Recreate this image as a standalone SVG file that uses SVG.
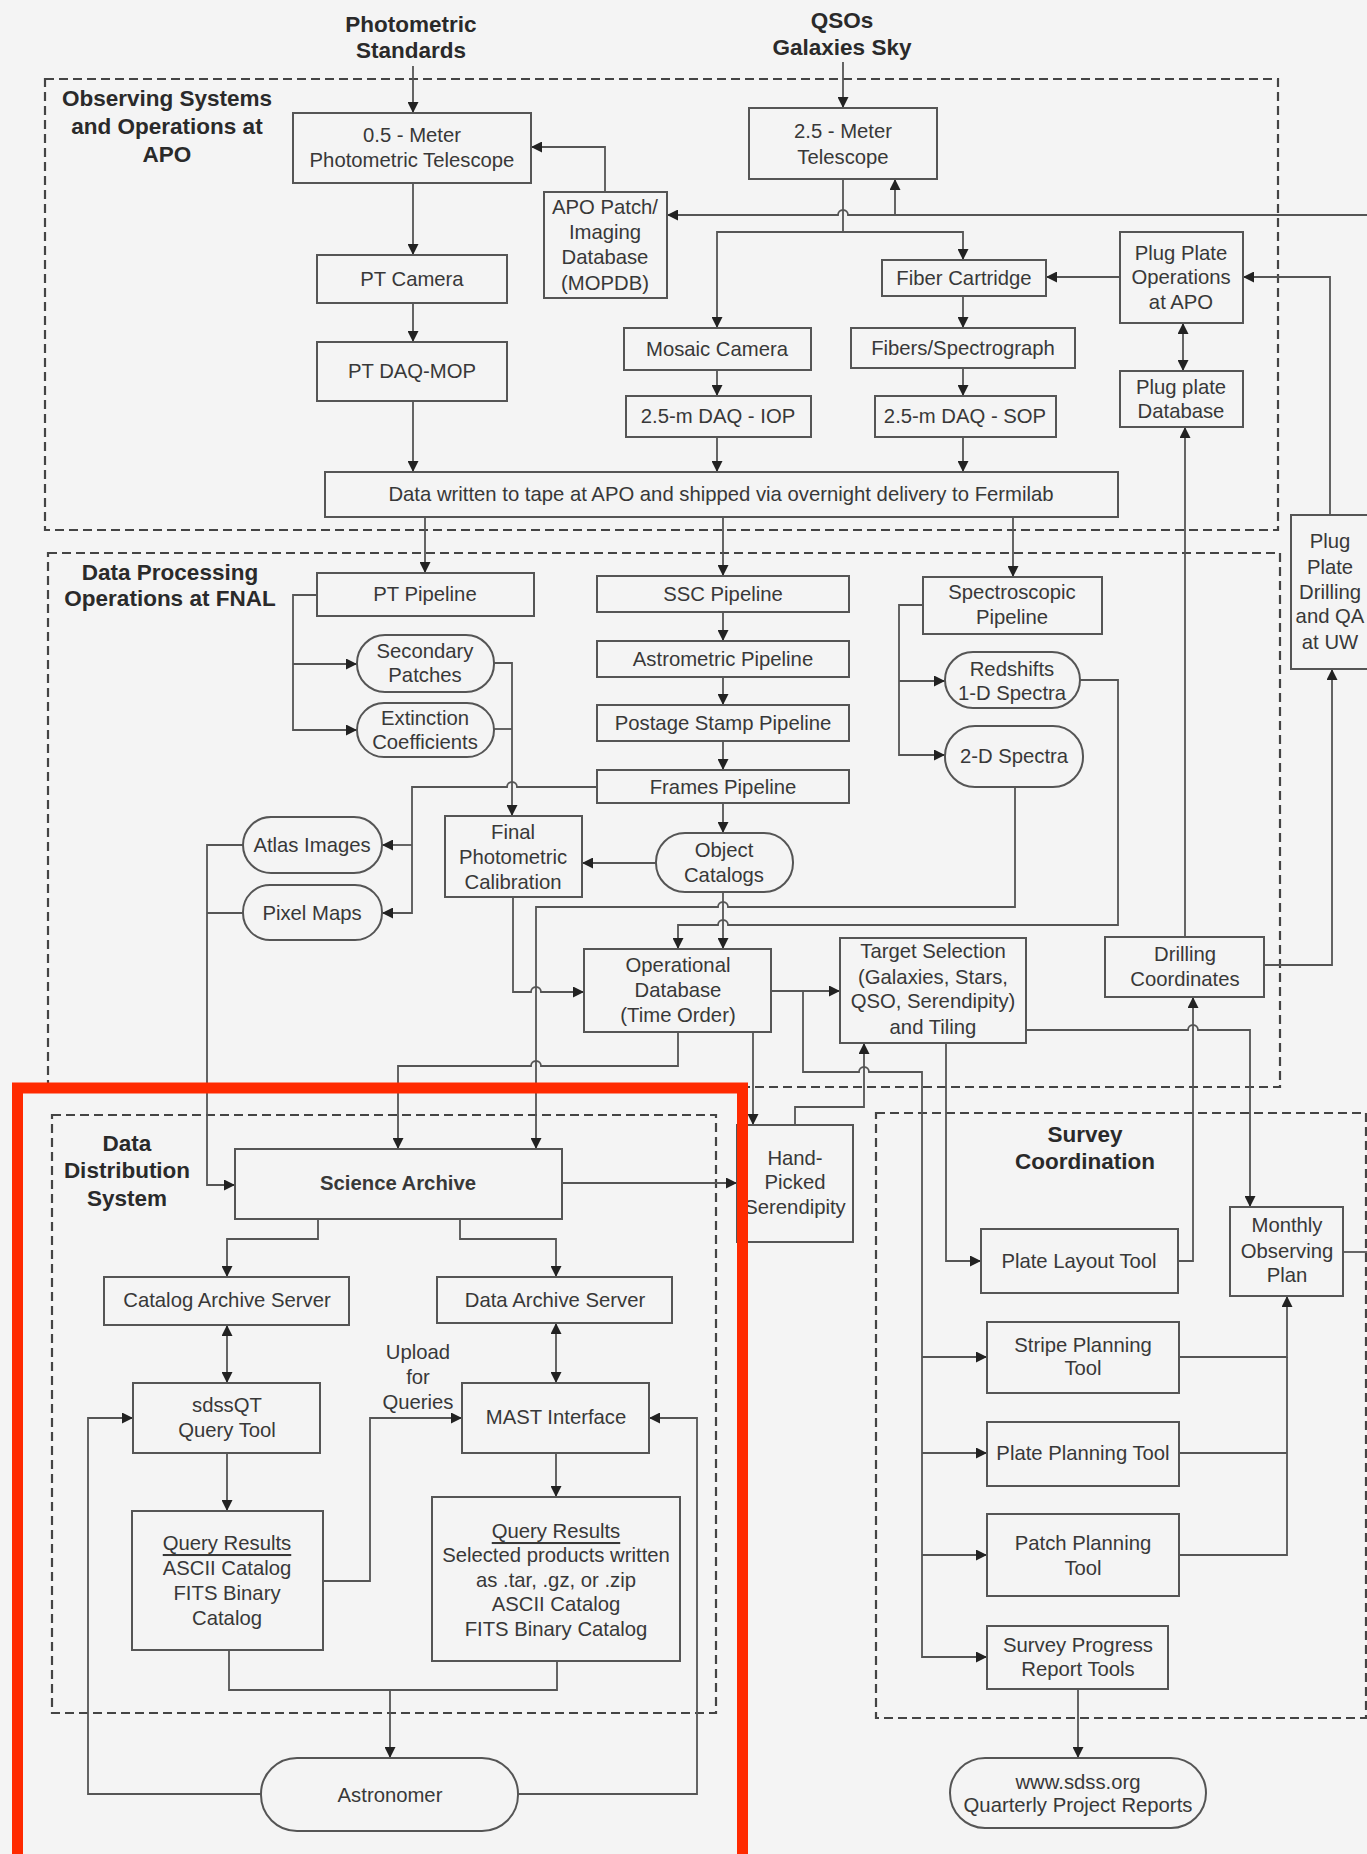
<svg xmlns="http://www.w3.org/2000/svg" width="1367" height="1854" viewBox="0 0 1367 1854">
<defs>
<marker id="arr" viewBox="0 0 10 10" refX="10" refY="5" markerWidth="11" markerHeight="11" markerUnits="userSpaceOnUse" orient="auto"><path d="M0,0 L10,5 L0,10 z" fill="#222"/></marker>
<marker id="arrs" viewBox="0 0 10 10" refX="10" refY="5" markerWidth="11" markerHeight="11" markerUnits="userSpaceOnUse" orient="auto-start-reverse"><path d="M0,0 L10,5 L0,10 z" fill="#222"/></marker>
<style>
.bx{fill:none;stroke:#555;stroke-width:2}
.st{fill:none;stroke:#555;stroke-width:2}
.dash{fill:none;stroke:#444;stroke-width:2.2;stroke-dasharray:9 5}
.t{font-family:"Liberation Sans",Arial,sans-serif;font-size:20.3px;fill:#383838;text-anchor:middle;dominant-baseline:central}
.tb{font-family:"Liberation Sans",Arial,sans-serif;font-size:22.5px;font-weight:bold;fill:#2a2a2a;text-anchor:middle;dominant-baseline:central}
.c path{fill:none;stroke:#555;stroke-width:1.8}
.a{marker-end:url(#arr)}
.aa{marker-end:url(#arrs);marker-start:url(#arrs)}
</style>
</defs>
<rect x="0" y="0" width="1367" height="1854" fill="#f4f4f4"/>

<g id="regions">
<rect class="dash" x="45" y="79" width="1233" height="451"/>
<rect class="dash" x="48" y="553" width="1232" height="534"/>
<rect class="dash" x="52" y="1115" width="664" height="598"/>
<rect class="dash" x="876" y="1113" width="490" height="605"/>
</g>

<g id="titles">
<text class="tb" x="411" y="24">Photometric</text>
<text class="tb" x="411" y="50">Standards</text>
<text class="tb" x="842" y="20">QSOs</text>
<text class="tb" x="842" y="47">Galaxies Sky</text>
<text class="tb" x="167" y="98">Observing Systems</text>
<text class="tb" x="167" y="126">and Operations at</text>
<text class="tb" x="167" y="154">APO</text>
<text class="tb" x="170" y="572">Data Processing</text>
<text class="tb" x="170" y="598">Operations at FNAL</text>
<text class="tb" x="127" y="1143">Data</text>
<text class="tb" x="127" y="1170">Distribution</text>
<text class="tb" x="127" y="1198">System</text>
<text class="tb" x="1085" y="1134">Survey</text>
<text class="tb" x="1085" y="1161">Coordination</text>
<text class="t" x="418" y="1352">Upload</text>
<text class="t" x="418" y="1377">for</text>
<text class="t" x="418" y="1402">Queries</text>
</g>

<g id="connectors" class="c">
<path class="a" d="M413,66 V113"/>
<path class="a" d="M843,62 V108"/>
<path class="a" d="M413,183 V255"/>
<path class="a" d="M413,303 V342"/>
<path class="a" d="M413,401 V472"/>
<path class="a" d="M605,192 V147 H531"/>
<path class="a" d="M1367,215 H848 A5,5 0 0 0 838,215 H667"/>
<path class="a" d="M895,215 V179"/>
<path d="M843,179 V232"/>
<path class="a" d="M843,232 H717 V328"/>
<path class="a" d="M843,232 H963 V260"/>
<path class="a" d="M717,370 V396"/>
<path class="a" d="M717,437 V472"/>
<path class="a" d="M963,296 V328"/>
<path class="a" d="M963,368 V396"/>
<path class="a" d="M963,437 V472"/>
<path class="a" d="M1120,277 H1046"/>
<path class="a" d="M1330,515 V277 H1243"/>
<path class="aa" d="M1183,323 V371"/>
<path class="a" d="M1185,937 V427"/>
<path class="a" d="M425,517 V573"/>
<path class="a" d="M723,517 V576"/>
<path class="a" d="M1013,517 V577"/>
<path class="a" d="M317,595 H293 V730 H357"/>
<path class="a" d="M293,664 H357"/>
<path class="a" d="M494,663 H512 V816"/>
<path d="M494,729 H512"/>
<path class="a" d="M723,612 V641"/>
<path class="a" d="M723,677 V705"/>
<path class="a" d="M723,741 V770"/>
<path class="a" d="M723,803 V833"/>
<path class="a" d="M656,863 H582"/>
<path class="a" d="M597,787 H517 A5,5 0 0 0 507,787 H412 V913 H382"/>
<path class="a" d="M412,845 H382"/>
<path class="a" d="M243,845 H207 V1185 H235"/>
<path d="M243,913 H207"/>
<path class="a" d="M513,897 V992 H531 A5,5 0 0 1 541,992 H584"/>
<path class="a" d="M1015,787 V907 H728 A5,5 0 0 0 718,907 H536 V1149"/>
<path class="a" d="M1080,680 H1118 V925 H728 A5,5 0 0 0 718,925 H678 V949"/>
<path class="a" d="M723,892 V949"/>
<path class="a" d="M923,605 H899 V755 H945"/>
<path class="a" d="M899,681 H945"/>
<path class="a" d="M771,991 H840"/>
<path class="a" d="M803,991 V1072 H859 A5,5 0 0 1 869,1072 H922 V1657 H987"/>
<path class="a" d="M922,1357 H987"/>
<path class="a" d="M922,1453 H987"/>
<path class="a" d="M922,1555 H987"/>
<path class="a" d="M753,1032 V1125"/>
<path class="a" d="M678,1032 V1066 H541 A5,5 0 0 0 531,1066 H398 V1149"/>
<path class="a" d="M795,1125 V1107 H864 V1043"/>
<path class="a" d="M562,1183 H737"/>
<path class="a" d="M946,1043 V1261 H981"/>
<path class="a" d="M1026,1030 H1188 A5,5 0 0 1 1198,1030 H1250 V1207"/>
<path class="a" d="M1178,1261 H1193 V997"/>
<path class="a" d="M1264,965 H1332 V669"/>
<path class="a" d="M1179,1357 H1287 V1296"/>
<path d="M1179,1453 H1287"/>
<path d="M1179,1555 H1287 V1357"/>
<path d="M1343,1252 H1367"/>
<path class="a" d="M1078,1689 V1758"/>
<path class="a" d="M318,1219 V1239 H227 V1277"/>
<path class="a" d="M460,1219 V1239 H556 V1277"/>
<path class="aa" d="M227,1325 V1383"/>
<path class="aa" d="M556,1323 V1383"/>
<path class="a" d="M227,1453 V1511"/>
<path class="a" d="M323,1581 H370 V1418 H462"/>
<path class="a" d="M556,1453 V1497"/>
<path d="M229,1650 V1690 H557 V1661"/>
<path class="a" d="M390,1690 V1758"/>
<path class="a" d="M261,1794 H88 V1418 H133"/>
<path class="a" d="M518,1794 H697 V1418 H649"/>
</g>

<g id="pt05"><rect class="bx" x="293" y="113" width="238" height="70"/><text class="t" x="412" y="135">0.5 - Meter</text><text class="t" x="412" y="160">Photometric Telescope</text></g>
<g id="ptcam"><rect class="bx" x="317" y="255" width="190" height="48"/><text class="t" x="412" y="279">PT Camera</text></g>
<g id="ptdaq"><rect class="bx" x="317" y="342" width="190" height="59"/><text class="t" x="412" y="371">PT DAQ-MOP</text></g>
<g id="apopatch"><rect class="bx" x="544" y="192" width="123" height="106"/><text class="t" x="605" y="207">APO Patch/</text><text class="t" x="605" y="232">Imaging</text><text class="t" x="605" y="257">Database</text><text class="t" x="605" y="283">(MOPDB)</text></g>
<g id="t25"><rect class="bx" x="749" y="108" width="188" height="71"/><text class="t" x="843" y="131">2.5 - Meter</text><text class="t" x="843" y="157">Telescope</text></g>
<g id="mosaic"><rect class="bx" x="624" y="328" width="187" height="42"/><text class="t" x="717" y="349">Mosaic Camera</text></g>
<g id="daqiop"><rect class="bx" x="626" y="396" width="185" height="41"/><text class="t" x="718" y="416">2.5-m DAQ - IOP</text></g>
<g id="fibercart"><rect class="bx" x="882" y="260" width="164" height="36"/><text class="t" x="964" y="278">Fiber Cartridge</text></g>
<g id="fibers"><rect class="bx" x="851" y="328" width="224" height="40"/><text class="t" x="963" y="348">Fibers/Spectrograph</text></g>
<g id="daqsop"><rect class="bx" x="875" y="396" width="181" height="41"/><text class="t" x="965" y="416">2.5-m DAQ - SOP</text></g>
<g id="plugops"><rect class="bx" x="1120" y="232" width="123" height="91"/><text class="t" x="1181" y="253">Plug Plate</text><text class="t" x="1181" y="277">Operations</text><text class="t" x="1181" y="302">at APO</text></g>
<g id="plugdb"><rect class="bx" x="1120" y="371" width="123" height="56"/><text class="t" x="1181" y="387">Plug plate</text><text class="t" x="1181" y="411">Database</text></g>
<g id="datawritten"><rect class="bx" x="325" y="472" width="793" height="45"/><text class="t" x="721" y="494">Data written to tape at APO and shipped via overnight delivery to Fermilab</text></g>
<g id="ptpipe"><rect class="bx" x="317" y="573" width="217" height="43"/><text class="t" x="425" y="594">PT Pipeline</text></g>
<g id="secpatch"><rect class="st" x="357" y="635" width="137" height="57" rx="28" ry="28"/><text class="t" x="425" y="651">Secondary</text><text class="t" x="425" y="675">Patches</text></g>
<g id="extcoef"><rect class="st" x="357" y="703" width="137" height="54" rx="27" ry="27"/><text class="t" x="425" y="718">Extinction</text><text class="t" x="425" y="742">Coefficients</text></g>
<g id="ssc"><rect class="bx" x="597" y="576" width="252" height="36"/><text class="t" x="723" y="594">SSC Pipeline</text></g>
<g id="astro"><rect class="bx" x="597" y="641" width="252" height="36"/><text class="t" x="723" y="659">Astrometric Pipeline</text></g>
<g id="postage"><rect class="bx" x="597" y="705" width="252" height="36"/><text class="t" x="723" y="723">Postage Stamp Pipeline</text></g>
<g id="frames"><rect class="bx" x="597" y="770" width="252" height="33"/><text class="t" x="723" y="787">Frames Pipeline</text></g>
<g id="objcat"><rect class="st" x="656" y="833" width="137" height="59" rx="29" ry="29"/><text class="t" x="724" y="850">Object</text><text class="t" x="724" y="875">Catalogs</text></g>
<g id="fpc"><rect class="bx" x="445" y="816" width="137" height="81"/><text class="t" x="513" y="832">Final</text><text class="t" x="513" y="857">Photometric</text><text class="t" x="513" y="882">Calibration</text></g>
<g id="atlas"><rect class="st" x="243" y="817" width="139" height="56" rx="28" ry="28"/><text class="t" x="312" y="845">Atlas Images</text></g>
<g id="pixel"><rect class="st" x="243" y="885" width="139" height="55" rx="27" ry="27"/><text class="t" x="312" y="913">Pixel Maps</text></g>
<g id="specpipe"><rect class="bx" x="923" y="577" width="179" height="57"/><text class="t" x="1012" y="592">Spectroscopic</text><text class="t" x="1012" y="617">Pipeline</text></g>
<g id="redshifts"><rect class="st" x="945" y="652" width="135" height="56" rx="28" ry="28"/><text class="t" x="1012" y="669">Redshifts</text><text class="t" x="1012" y="693">1-D Spectra</text></g>
<g id="spec2d"><rect class="st" x="945" y="726" width="138" height="61" rx="30" ry="30"/><text class="t" x="1014" y="756">2-D Spectra</text></g>
<g id="plugdrill"><rect class="bx" x="1291" y="515" width="90" height="154"/><text class="t" x="1330" y="541">Plug</text><text class="t" x="1330" y="567">Plate</text><text class="t" x="1330" y="592">Drilling</text><text class="t" x="1330" y="616">and QA</text><text class="t" x="1330" y="642">at UW</text></g>
<g id="opdb"><rect class="bx" x="584" y="949" width="187" height="83"/><text class="t" x="678" y="965">Operational</text><text class="t" x="678" y="990">Database</text><text class="t" x="678" y="1015">(Time Order)</text></g>
<g id="target"><rect class="bx" x="840" y="938" width="186" height="105"/><text class="t" x="933" y="951">Target Selection</text><text class="t" x="933" y="977">(Galaxies, Stars,</text><text class="t" x="933" y="1001">QSO, Serendipity)</text><text class="t" x="933" y="1027">and Tiling</text></g>
<g id="drillcoord"><rect class="bx" x="1105" y="937" width="159" height="60"/><text class="t" x="1185" y="954">Drilling</text><text class="t" x="1185" y="979">Coordinates</text></g>
<g id="handpicked"><rect class="bx" x="737" y="1125" width="116" height="117"/><text class="t" x="795" y="1158">Hand-</text><text class="t" x="795" y="1182">Picked</text><text class="t" x="795" y="1207">Serendipity</text></g>
<g id="sciarch"><rect class="bx" x="235" y="1149" width="327" height="70"/><text class="t" x="398" y="1183" font-weight="bold">Science Archive</text></g>
<g id="cas"><rect class="bx" x="104" y="1277" width="245" height="48"/><text class="t" x="227" y="1300">Catalog Archive Server</text></g>
<g id="das"><rect class="bx" x="437" y="1277" width="235" height="46"/><text class="t" x="555" y="1300">Data Archive Server</text></g>
<g id="sdssqt"><rect class="bx" x="133" y="1383" width="187" height="70"/><text class="t" x="227" y="1405">sdssQT</text><text class="t" x="227" y="1430">Query Tool</text></g>
<g id="qrleft"><rect class="bx" x="132" y="1511" width="191" height="139"/><text class="t" x="227" y="1543" text-decoration="underline">Query Results</text><text class="t" x="227" y="1568">ASCII Catalog</text><text class="t" x="227" y="1593">FITS Binary</text><text class="t" x="227" y="1618">Catalog</text></g>
<g id="mast"><rect class="bx" x="462" y="1383" width="187" height="70"/><text class="t" x="556" y="1417">MAST Interface</text></g>
<g id="qrright"><rect class="bx" x="432" y="1497" width="248" height="164"/><text class="t" x="556" y="1531" text-decoration="underline">Query Results</text><text class="t" x="556" y="1555">Selected products written</text><text class="t" x="556" y="1580">as .tar, .gz, or .zip</text><text class="t" x="556" y="1604">ASCII Catalog</text><text class="t" x="556" y="1629">FITS Binary Catalog</text></g>
<g id="astronomer"><rect class="st" x="261" y="1758" width="257" height="73" rx="36" ry="36"/><text class="t" x="390" y="1795">Astronomer</text></g>
<g id="monthly"><rect class="bx" x="1230" y="1207" width="113" height="89"/><text class="t" x="1287" y="1225">Monthly</text><text class="t" x="1287" y="1251">Observing</text><text class="t" x="1287" y="1275">Plan</text></g>
<g id="platelayout"><rect class="bx" x="981" y="1229" width="197" height="64"/><text class="t" x="1079" y="1261">Plate Layout Tool</text></g>
<g id="stripe"><rect class="bx" x="987" y="1322" width="192" height="71"/><text class="t" x="1083" y="1345">Stripe Planning</text><text class="t" x="1083" y="1368">Tool</text></g>
<g id="plateplan"><rect class="bx" x="987" y="1422" width="192" height="64"/><text class="t" x="1083" y="1453">Plate Planning Tool</text></g>
<g id="patchplan"><rect class="bx" x="987" y="1514" width="192" height="82"/><text class="t" x="1083" y="1543">Patch Planning</text><text class="t" x="1083" y="1568">Tool</text></g>
<g id="surveyprog"><rect class="bx" x="987" y="1626" width="181" height="63"/><text class="t" x="1078" y="1645">Survey Progress</text><text class="t" x="1078" y="1669">Report Tools</text></g>
<g id="www"><rect class="st" x="950" y="1758" width="256" height="70" rx="35" ry="35"/><text class="t" x="1078" y="1782">www.sdss.org</text><text class="t" x="1078" y="1805">Quarterly Project Reports</text></g>

<g id="highlight"><rect x="17.5" y="1088" width="725" height="800" fill="none" stroke="#ff2a00" stroke-width="11"/></g>
</svg>
